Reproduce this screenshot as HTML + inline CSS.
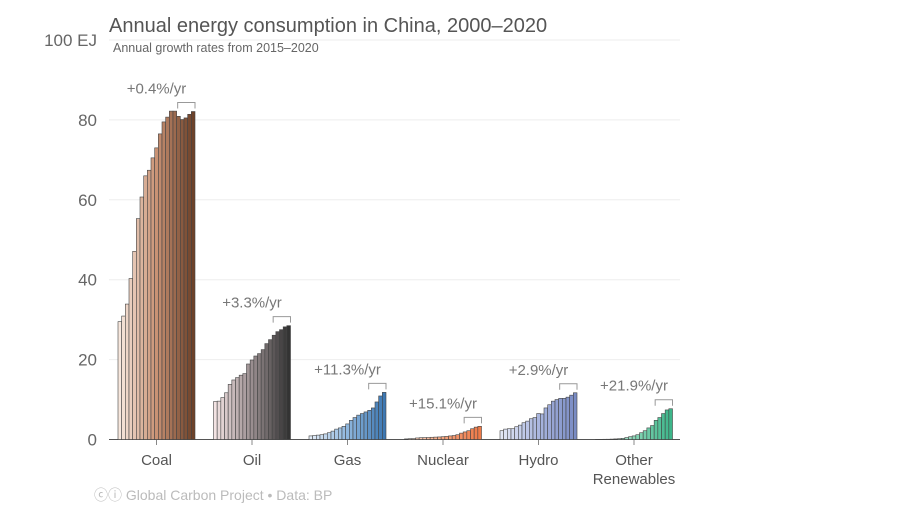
<!DOCTYPE html>
<html><head><meta charset="utf-8"><style>
body{margin:0;background:#fff;}
svg{display:block;font-family:"Liberation Sans",sans-serif;}
</style></head><body>
<svg id="chart" width="900" height="506">
<text x="109" y="32" font-size="20" fill="#555">Annual energy consumption in China, 2000–2020</text>
<text x="113" y="52" font-size="12.5" fill="#666">Annual growth rates from 2015–2020</text>
<g id="grid"></g><g id="bars"></g><g id="ann"></g>
<text x="94" y="500" font-size="14" fill="#bbb">ⓒⓘ Global Carbon Project  •  Data: BP</text>
</svg>
<script>
const categories=["Coal","Oil","Gas","Nuclear","Hydro","Other|Renewables"];
const growthLabels=["+0.4%/yr","+3.3%/yr","+11.3%/yr","+15.1%/yr","+2.9%/yr","+21.9%/yr"];
const coal=[29.5,30.9,33.9,40.3,47.1,55.3,60.7,66,67.4,70.5,73,76.5,79.5,80.7,82.2,82.2,80.9,80.1,80.5,81.4,82.1];
const oil=[9.5,9.6,10.5,11.7,13.8,14.9,15.5,16.1,16.5,18.9,19.9,20.9,21.5,22.5,24,25,26.1,27,27.5,28.2,28.5];
const gas=[0.9,1.0,1.1,1.2,1.4,1.7,2.1,2.6,2.9,3.3,3.9,4.8,5.5,6.1,6.5,6.9,7.3,7.9,9.4,10.9,11.8];
const nuclear=[0.15,0.2,0.22,0.39,0.45,0.48,0.5,0.56,0.6,0.64,0.7,0.78,0.9,1.0,1.2,1.6,1.9,2.2,2.7,3.1,3.3];
const hydro=[2.2,2.6,2.7,2.7,3.2,3.6,4.2,4.6,5.2,5.5,6.5,6.4,7.9,8.7,9.6,10.0,10.3,10.3,10.6,11.1,11.7];
const other=[0.05,0.05,0.06,0.07,0.1,0.15,0.2,0.3,0.5,0.7,0.9,1.2,1.7,2.2,2.9,3.5,4.8,5.5,6.5,7.4,7.7];
const yTicks=[0,20,40,60,80,100];
const series=[coal,oil,gas,nuclear,hydro,other];
const colors=[["#f7e7dd","#c99274","#6e4229"],["#f3e3e3","#9a8e90","#333333"],["#e2ecf7","#8fb7de","#3d78b3"],["#fcdccb","#f5a47e","#ee7a48"],["#e2e7f5","#aab6df","#7a8cc4"],["#d8f2e7","#8ad6b7","#3db68a"]];
const NS="http://www.w3.org/2000/svg";
const y=v=>439.5-v*3.995;
const gx0=118,gstep=95.5,bw=77/21;
function mk(t,a,p){const e=document.createElementNS(NS,t);for(const k in a)e.setAttribute(k,a[k]);p.appendChild(e);return e;}
function lerp(c1,c2,t){const a=parseInt(c1.slice(1),16),b=parseInt(c2.slice(1),16);const r=[16,8,0].map(s=>Math.round(((a>>s)&255)*(1-t)+((b>>s)&255)*t));return`rgb(${r.join(",")})`;}
function grad(c,t){return t<0.5?lerp(c[0],c[1],t*2):lerp(c[1],c[2],(t-0.5)*2);}
const grid=document.getElementById("grid"),bars=document.getElementById("bars"),ann=document.getElementById("ann");
yTicks.forEach(t=>{
 if(t>0){const l=mk("line",{x1:109,x2:680,y1:y(t),y2:y(t),stroke:"#eeeeee","stroke-width":1},grid);
 
 }
 const tx=mk("text",{x:97,y:y(t)+6,"font-size":17,fill:"#666","text-anchor":"end"},grid);
 tx.textContent=t===100?"100 EJ":t;
 
 
});
const ax=mk("line",{x1:109,x2:680,y1:439.5,y2:439.5,stroke:"#555","stroke-width":1},grid);


series.forEach((s,g)=>{
 const x0=gx0+g*gstep;
 s.forEach((v,i)=>{
  const r=mk("rect",{x:x0+i*bw,y:y(v),width:bw,height:439.5-y(v),fill:grad(colors[g],i/20),stroke:"#444","stroke-width":0.6},bars);
  
  
 });
 const cx=x0+38.5;
 const tk=mk("line",{x1:cx,x2:cx,y1:440,y2:445,stroke:"#888"},ann);
 
 
 const parts=categories[g].split("|");
 parts.forEach((p,j)=>{const t=mk("text",{x:cx,y:465+j*19,"font-size":15,fill:"#555","text-anchor":"middle"},ann);t.textContent=p;
 
 });
 const mx=Math.max(...s.slice(16));
 const by=y(mx)-9;
 const bx1=x0+16*bw+1,bx2=x0+21*bw;
 const br=mk("path",{d:`M${bx1},${by+6}V${by}H${bx2}V${by+6}`,fill:"none",stroke:"#999","stroke-width":1},ann);
 
 
 const gl=mk("text",{x:cx,y:by-9,"font-size":15,fill:"#777","text-anchor":"middle"},ann);
 gl.textContent=growthLabels[g];
 
 
});
</script>
</body></html>
